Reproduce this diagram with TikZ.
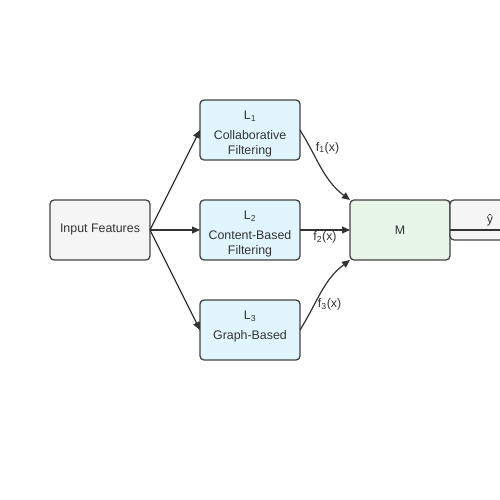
\documentclass[tikz,border=0pt]{standalone}
\usepackage{fontspec}
\setmainfont{Liberation Sans}
\usetikzlibrary{positioning,arrows.meta}

\definecolor{linegray}{HTML}{333333}
\definecolor{boxgray}{HTML}{444444}
\definecolor{inputfill}{HTML}{F5F5F5}
\definecolor{learnerfill}{HTML}{E1F5FE}
\definecolor{metafill}{HTML}{E8F5E9}

\begin{document}
\begin{tikzpicture}[x=1pt,y=-1pt,->,>={Triangle[length=8pt,width=7pt]},
  line width=1.2pt,draw=linegray,
  main node/.style={rectangle,rounded corners=4pt,draw=boxgray,line width=1.3pt,
    fill=learnerfill,minimum width=100pt,minimum height=60pt,inner sep=0pt,outer sep=0pt,
    text=black!80,font=\fontsize{12.4}{15}\selectfont,align=center},
  edge label/.style={text=black!80,font=\fontsize{12.4}{14}\selectfont,inner sep=1pt}]

  \useasboundingbox (0,0) rectangle (500,500);

  \node[main node, fill=inputfill] (1) at (100,230) {Input Features};
  \node[main node] (3) [right=50pt of 1] {};
  \node[main node] (2) [above=40pt of 3] {};
  \node[main node] (4) [below=40pt of 3] {};
  \node[main node, fill=metafill] (5) [right=50pt of 3] {M};
  \node[main node, fill=inputfill, minimum height=40pt, anchor=north west] (6)
    at (5.north east) {};
  \coordinate (7) at (520,230);

  % texts inside the learners
  \node[edge label] at ([yshift=-16pt]2.north) {L\textsubscript{1}};
  \node[edge label, align=center] at ([yshift=-44pt]2.north) {Collaborative\\[1pt]Filtering};
  \node[edge label] at ([yshift=-16pt]3.north) {L\textsubscript{2}};
  \node[edge label, align=center] at ([yshift=-44pt]3.north) {Content-Based\\[1pt]Filtering};
  \node[edge label] at ([yshift=-16pt]4.north) {L\textsubscript{3}};
  \node[edge label] at ([yshift=-36pt]4.north) {Graph-Based};
  \node[edge label] at (490,220) {\^{y}};

  \path
    (1.east) edge  node {} (2.west)
             edge  node {} (3)
             edge  node {} (4.west)
    (2.east) edge[out=-58,in=143]  node[edge label, pos=0.22, right=4pt] {f\textsubscript{1}(x)} (5.north west)
    (3) edge  node[edge label, below=0pt, pos=0.5] {f\textsubscript{2}(x)} (5)
    (4.east) edge[out=58,in=-143]  node[edge label, pos=0.32, right=2pt] {f\textsubscript{3}(x)} (5.south west)
    (5) edge  node {} (7);
\end{tikzpicture}
\end{document}
